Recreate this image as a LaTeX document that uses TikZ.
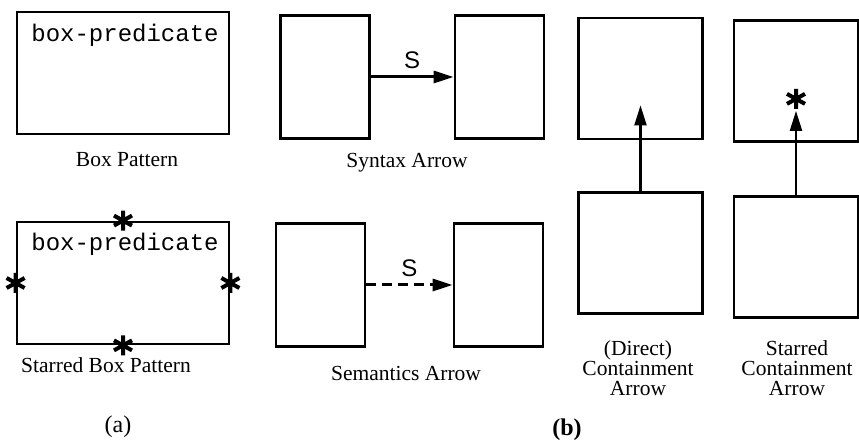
\documentclass[tikz,border=0pt]{standalone}
\usepackage{fontspec}
\setmainfont{Liberation Serif}
\setsansfont{Liberation Sans}
\setmonofont{Liberation Mono}
\usetikzlibrary{arrows.meta,calc}

\tikzset{
  boxstar/.pic={
    \draw[line width=2pt] (0,-10) -- (0,10) (-9,-5) -- (9,5) (-9,5) -- (9,-5);
  }
}

\begin{document}
\begin{tikzpicture}[x=0.5pt,y=0.5pt,
    pbox/.style={draw, line width=1.4pt, minimum width=106pt, minimum height=61pt, inner sep=0pt},
    abox/.style={draw, line width=1.4pt, minimum width=44.5pt, minimum height=61.5pt, inner sep=0pt},
    cbox/.style={draw, line width=1.4pt, minimum width=62pt, minimum height=60.5pt, inner sep=0pt},
    predtext/.style={font=\fontsize{12pt}{14pt}\selectfont\ttfamily, inner sep=0pt},
    caption/.style={font=\fontsize{10.75pt}{10pt}\selectfont, align=center, inner sep=0pt},
    partlabel/.style={font=\fontsize{12pt}{14pt}\selectfont, inner sep=0pt},
    slabel/.style={font=\fontsize{12pt}{14pt}\selectfont\sffamily},
    arr/.style={-{Triangle[length=10pt,width=6pt]}, line width=1.5pt}]
  \useasboundingbox (0,0) rectangle (859,444);

  % Box pattern
  \node[pbox] (bp) at (123,371) {};
  \node[predtext] (bpText) at ($(bp.north)+(2,-25)$) {box-predicate};
  \node[caption] (bpCap) at (127,284) {Box Pattern};

  % Starred box pattern
  \node[pbox] (sbp) at (123,161) {};
  \node[predtext] (sbpText) at ($(sbp.north)+(2,-24)$) {box-predicate};
  \pic at (sbp.north) {boxstar};
  \pic at (sbp.south) {boxstar};
  \pic at (sbp.west) {boxstar};
  \pic at (sbp.east) {boxstar};
  \node[caption] (sbpCap) at (106,79) {Starred Box Pattern};

  \node[partlabel] (labA) at (118,17) {(a)};

  % Syntax arrow
  \node[abox] (synA) at (325,367) {};
  \node[abox] (synB) at (499.5,367) {};
  \draw[arr] (synA) -- (synB) node[midway, above, slabel] (synS) {S};
  \node[caption] (synCap) at (407,281) {Syntax Arrow};

  % Semantics arrow
  \node[abox] (semA) at (320.5,159) {};
  \node[abox] (semB) at (498.5,159) {};
  \draw[arr, dash pattern=on 5pt off 3pt] (semA) -- (semB) node[midway, above, slabel] (semS) {S};
  \node[caption] (semCap) at (406,71) {Semantics Arrow};

  % Direct containment
  \node[cbox] (dirTop) at (640.5,365.5) {};
  \node[cbox] (dirBot) at (640.5,191) {};
  \coordinate (dirTip) at ($(dirTop.south)+(0,35)$);
  \draw[arr, line width=1.1pt] (dirBot) -- (dirTip);
  \node[caption] (dirCap) at (638,76) {(Direct)\\Containment\\Arrow};

  % Starred containment
  \node[cbox] (strTop) at (796,363) {};
  \node[cbox] (strBot) at (796,187) {};
  \coordinate (strTip) at ($(strTop.south)+(0,32)$);
  \draw[arr, line width=1.1pt] (strBot) -- (strTip);
  \pic at ($(strTop.south)+(0,44)$) {boxstar};
  \node[caption] (strCap) at (797,76) {Starred\\Containment\\Arrow};

  \node[partlabel, font=\fontsize{12pt}{14pt}\selectfont\bfseries] (labB) at (567,14) {(b)};
\end{tikzpicture}
\end{document}
